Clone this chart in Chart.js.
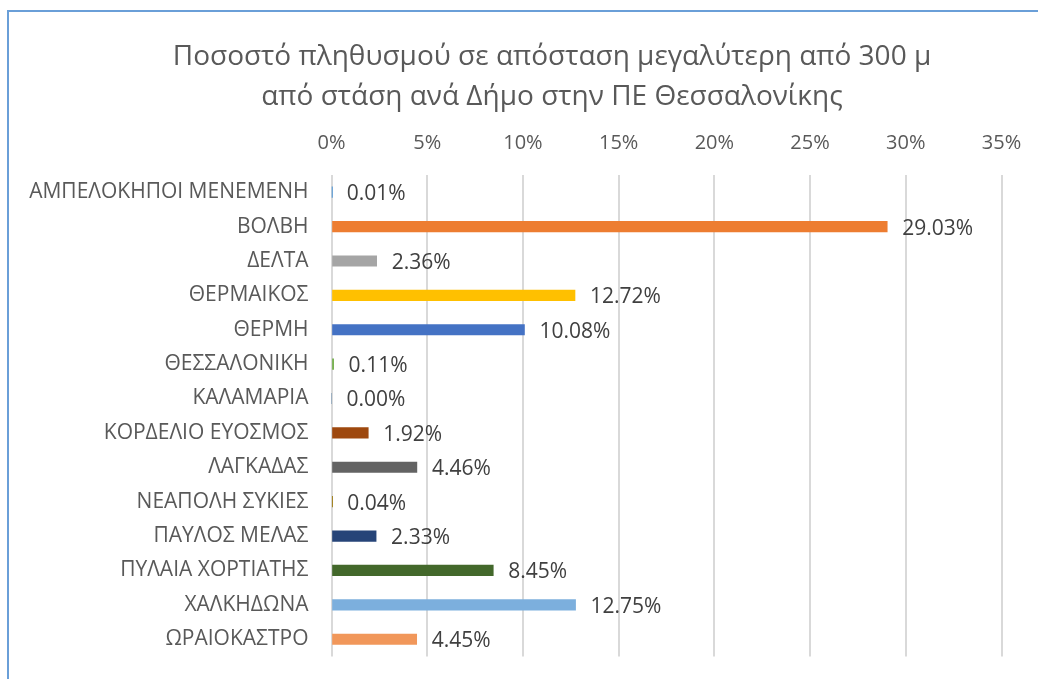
<!DOCTYPE html>
<html>
<head>
<meta charset="utf-8">
<script src="https://cdn.jsdelivr.net/npm/chart.js@4.4.1/dist/chart.umd.min.js"></script>
<style>
  html, body { margin: 0; padding: 0; background: #fff; overflow: hidden; width: 1038px; height: 679px; }
  #frame { position: absolute; left: 7px; top: 10px; border-top: 2px solid #6a9fd8; border-left: 2px solid #6a9fd8; width: 1086px; height: 680px; }
  #chart { display: block; }
</style>
</head>
<body>
<div id="frame"><canvas id="chart" width="1086" height="680"></canvas></div>
<script>
// δεδομένα
const titleLines = ['Ποσοστό πληθυσμού σε απόσταση μεγαλύτερη από 300 μ', 'από στάση ανά Δήμο στην ΠΕ Θεσσαλονίκης'];
const dimoi = [
  'ΑΜΠΕΛΟΚΗΠΟΙ ΜΕΝΕΜΕΝΗ', 'ΒΟΛΒΗ', 'ΔΕΛΤΑ', 'ΘΕΡΜΑΙΚΟΣ', 'ΘΕΡΜΗ', 'ΘΕΣΣΑΛΟΝΙΚΗ', 'ΚΑΛΑΜΑΡΙΑ',
  'ΚΟΡΔΕΛΙΟ ΕΥΟΣΜΟΣ', 'ΛΑΓΚΑΔΑΣ', 'ΝΕΑΠΟΛΗ ΣΥΚΙΕΣ', 'ΠΑΥΛΟΣ ΜΕΛΑΣ', 'ΠΥΛΑΙΑ ΧΟΡΤΙΑΤΗΣ', 'ΧΑΛΚΗΔΩΝΑ', 'ΩΡΑΙΟΚΑΣΤΡΟ'
];
const pososto = [0.01, 29.03, 2.36, 12.72, 10.08, 0.11, 0.00, 1.92, 4.46, 0.04, 2.33, 8.45, 12.75, 4.45];
const xMax = 35;
const xStep = 5;
const barColors = [
  '#5b9bd5', '#ed7d31', '#a5a5a5', '#ffc000', '#4472c4', '#70ad47', '#255e91',
  '#9e480e', '#636363', '#997300', '#264478', '#43682b', '#7cafdd', '#f1975a'
];

const FONT = '"Open Sans", sans-serif';

// ετικέτες τιμών δεξιά από τις μπάρες
const valueLabels = {
  id: 'valueLabels',
  afterDatasetsDraw(chart) {
    const ctx = chart.ctx;
    const meta = chart.getDatasetMeta(0);
    ctx.save();
    ctx.font = '21px ' + FONT;
    ctx.fillStyle = '#404040';
    ctx.textAlign = 'left';
    ctx.textBaseline = 'middle';
    meta.data.forEach((bar, i) => {
      ctx.fillText(pososto[i].toFixed(2) + '%', bar.x + 15, bar.y + 2);
    });
    ctx.restore();
  }
};

new Chart(document.getElementById('chart'), {
  type: 'bar',
  data: {
    labels: dimoi,
    datasets: [{ data: pososto, backgroundColor: barColors, barThickness: 10.5 }]
  },
  options: {
    indexAxis: 'y',
    responsive: false,
    animation: false,
    layout: { padding: { left: 0, right: 0, top: 0, bottom: 35 } },
    plugins: {
      legend: { display: false },
      tooltip: { enabled: false },
      title: {
        display: true,
        text: titleLines,
        color: '#595959',
        font: { family: FONT, size: 28, weight: 'normal', lineHeight: 40 / 28 },
        padding: { top: 25, bottom: 0 }
      }
    },
    scales: {
      x: {
        position: 'top',
        min: 0,
        max: xMax,
        ticks: {
          stepSize: xStep,
          padding: 20,
          color: '#595959',
          font: { family: FONT, size: 20 },
          callback: v => v + '%'
        },
        grid: { color: '#d9d9d9', lineWidth: 2, drawTicks: false },
        border: { display: false },
        afterFit: s => { s.height = 58; }
      },
      y: {
        ticks: {
          padding: 23,
          color: '#595959',
          font: { family: FONT, size: 21 }
        },
        grid: { display: false, drawTicks: false },
        border: { display: false },
        afterFit: s => { s.width = 322.5; }
      },
      // κενός χώρος δεξιά
      yRight: {
        type: 'category',
        position: 'right',
        labels: dimoi,
        ticks: { display: false },
        grid: { display: false, drawTicks: false },
        border: { display: false },
        afterFit: s => { s.width = 93.5; }
      }
    }
  },
  plugins: [valueLabels]
});
</script>
</body>
</html>
